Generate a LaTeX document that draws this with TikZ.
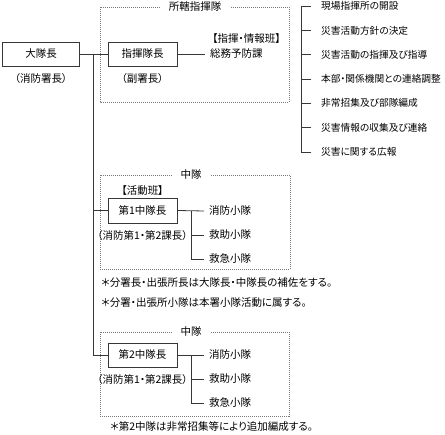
\documentclass[tikz,border=0pt]{standalone}
\usepackage{fontspec}
\setmainfont{Noto Sans CJK JP}[RawFeature=+palt]
\usetikzlibrary{positioning}
\definecolor{LineGray}{RGB}{55,55,55}
\definecolor{DotGray}{RGB}{120,120,120}

\begin{document}
\begin{tikzpicture}[
    x=1pt, y=-1pt,
    font=\fontsize{10.5}{12}\selectfont,
    node distance=4pt,
    chief/.style={draw=LineGray, line width=0.8pt, fill=white, minimum width=69pt, minimum height=24pt, inner sep=0pt},
    item/.style={anchor=west, inner xsep=5pt, inner ysep=1pt},
    note/.style={anchor=west, inner sep=1pt},
    group/.style={draw=DotGray, line width=0.8pt, dash pattern=on 1pt off 1pt},
    title/.style={fill=white, inner xsep=9pt, inner ysep=1pt},
    link/.style={draw=LineGray, line width=0.8pt}
]
\useasboundingbox (0,0) rectangle (445,435);

% 所轄指揮隊
\draw[group] (100,7) rectangle (289,102);
\node[title] (hqtitle) at (195,7) {所轄指揮隊};

\node[chief, minimum width=77pt] (daitai) at (41,54) {大隊長};
\node[below=of daitai] (daitaisub) {（消防署長）};

\node[chief] (shiki) at (142.5,54) {指揮隊長};
\node[below=of shiki] (shikisub) {（副署長）};
\node[item] (soumu) at (205,54) {総務予防課};
\node[above=1pt of soumu, xshift=10pt] (joho) {【指揮・情報班】};
\draw[link] (shiki.east) -- (soumu.west);

% 任務
\coordinate (rail) at (301,0);
\foreach \txt [count=\i] in {現場指揮所の開設, 災害活動方針の決定, 災害活動の指揮及び指導, 本部・関係機関との連絡調整, 非常招集及び部隊編成, 災害情報の収集及び連絡, 災害に関する広報}
    \node[item, font=\fontsize{9.7}{12}\selectfont] (task\i) at (316, {6+24.33*(\i-1)}) {\txt};
\draw[link] (task1.west -| rail) -- (task7.west -| rail);
\foreach \i in {1,...,7}
    \draw[link] ([xshift=-5pt]task\i.west) -- (task\i.west -| rail);

% 第1中隊
\draw[group] (100,175) rectangle (290,269);
\node[title] (chuAtitle) at (191,175) {中隊};
\node[chief, minimum height=25pt] (chuA) at (142.5,210.5) {第1中隊長};
\node[above=-1pt of chuA] (katsudo) {【活動班】};
\node[below=of chuA] (chuAsub) {（消防第1・第2課長）};
\coordinate (railA) at (191,0);
\foreach \u [count=\i] in {消防小隊, 救助小隊, 救急小隊}
    \node[item] (unitA\i) at (204, {211+24*(\i-1)}) {\u};
\draw[link] (chuA.east) -- (unitA1.west);
\draw[link] (unitA1.west -| railA) -- (unitA3.west -| railA);
\foreach \i in {2,3}
    \draw[link] (unitA\i.west -| railA) -- (unitA\i.west);

\node[note] (noteA) at (100,283) {＊分署長・出張所長は大隊長・中隊長の補佐をする。};
\node[note] (noteB) at (100,303) {＊分署・出張所小隊は本署小隊活動に属する。};

% 第2中隊
\draw[group] (100,332) rectangle (289,416);
\node[title] (chuBtitle) at (191,332) {中隊};
\node[chief] (chuB) at (142.5,355) {第2中隊長};
\node[below=of chuB] (chuBsub) {（消防第1・第2課長）};
\coordinate (railB) at (191,0);
\foreach \u [count=\i] in {消防小隊, 救助小隊, 救急小隊}
    \node[item] (unitB\i) at (204, {355+24*(\i-1)}) {\u};
\draw[link] (chuB.east) -- (unitB1.west);
\draw[link] (unitB1.west -| railB) -- (unitB3.west -| railB);
\foreach \i in {2,3}
    \draw[link] (unitB\i.west -| railB) -- (unitB\i.west);

\node[note] (noteC) at (109,427) {＊第2中隊は非常招集等により追加編成する。};

% 大隊長からの系統
\coordinate (trunk) at (93,0);
\draw[link] (daitai.east) -- (shiki.west);
\draw[link] (daitai.east -| trunk) -- (chuB.west -| trunk) -- (chuB.west);
\draw[link] (chuA.west -| trunk) -- (chuA.west);

\end{tikzpicture}
\end{document}
